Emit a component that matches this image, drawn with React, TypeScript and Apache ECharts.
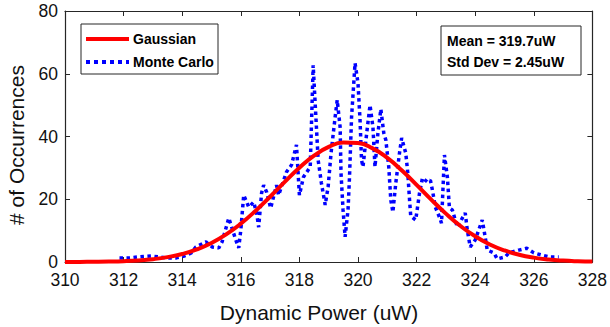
import React, { useEffect, useRef } from "react";
import * as echarts from "echarts";

// Monte Carlo histogram trace (x in uW, y = # of occurrences)
const mcX = [
  311.86, 312.2, 312.47, 312.95, 313.46, 313.8, 314.07, 314.31, 314.47, 314.81,
  315.02, 315.25, 315.36, 315.59, 315.83, 315.93, 316.0, 316.1, 316.27, 316.44,
  316.54, 316.61, 316.71, 316.78, 316.88, 317.02, 317.22, 317.29, 317.56, 317.73,
  317.9, 318.0, 318.14, 318.37, 318.47, 318.64, 318.75, 318.88, 318.98, 319.08,
  319.22, 319.29, 319.39, 319.42, 319.49, 319.56, 319.66, 319.71, 319.78, 319.9,
  320.0, 320.07, 320.12, 320.17, 320.27, 320.41, 320.51, 320.58, 320.68, 320.78,
  320.88, 320.95, 321.05, 321.12, 321.19, 321.29, 321.42, 321.49, 321.63, 321.7,
  321.76, 321.8, 321.97, 322.1, 322.2, 322.37, 322.47, 322.54, 322.64, 322.78,
  322.85, 322.95, 323.05, 323.12, 323.22, 323.39, 323.56, 323.66, 323.73, 323.83,
  324.0, 324.24, 324.34, 324.41, 324.64, 324.75, 325.02, 325.15, 325.49, 325.76,
  326.0, 326.27, 326.54, 326.85,
];
const mcY = [
  1.3, 1.3, 1.6, 1.9, 1.3, 1.3, 1.9, 2.9, 4.8, 6.4,
  4.8, 4.5, 6.4, 14.0, 7.0, 4.5, 10.2, 21.3, 17.5, 19.1,
  15.6, 11.1, 22.0, 24.5, 22.3, 17.2, 24.5, 21.3, 28.7, 30.9,
  37.3, 21.3, 27.1, 30.3, 62.7, 32.5, 25.2, 18.2, 23.9, 34.7,
  46.2, 51.6, 43.0, 28.3, 16.6, 8.0, 16.6, 27.1, 46.2, 63.4,
  57.0, 45.2, 32.5, 30.3, 38.9, 50.0, 43.0, 30.3, 41.1, 48.7,
  41.1, 38.9, 30.3, 19.7, 15.9, 25.2, 35.0, 39.5, 34.7, 28.3,
  19.7, 14.6, 13.4, 22.0, 26.8, 25.5, 26.1, 22.9, 17.5, 14.3,
  12.4, 34.1, 27.1, 17.2, 16.6, 11.1, 14.0, 15.6, 10.2, 4.8,
  7.0, 13.4, 8.0, 3.8, 2.9, 1.0, 1.6, 2.9, 3.8, 4.4,
  2.9, 2.2, 1.6, 1.6,
];

// Gaussian fit values
const gaussX = [
  310, 310.5, 311, 311.5, 312, 312.5, 313, 313.5, 314, 314.5, 315, 315.5, 316,
  316.5, 317, 317.5, 318, 318.5, 319, 319.5, 320, 320.5, 321, 321.5, 322, 322.5,
  323, 323.5, 324, 324.5, 325, 325.5, 326, 326.5, 327, 327.5, 328,
];
const gaussY = [
  0.02, 0.03, 0.07, 0.14, 0.27, 0.51, 0.91, 1.56, 2.55, 4.02, 6.07, 8.79, 12.22,
  16.28, 20.81, 25.52, 30.03, 33.88, 36.67, 38.07, 37.91, 36.22, 33.18, 29.16,
  24.59, 19.88, 15.42, 11.47, 8.19, 5.6, 3.68, 2.32, 1.4, 0.81, 0.45, 0.24, 0.12,
];

const legendLabels = ["Gaussian", "Monte Carlo"];
const statsLines = ["Mean = 319.7uW", "Std Dev = 2.45uW"];
const xTitle = "Dynamic Power (uW)";
const yTitle = "# of Occurrences";

const FONT = "'Liberation Sans', Arial, Helvetica, sans-serif";
const AX = "#262626";

export default function App() {
  const ref = useRef<HTMLDivElement>(null);
  useEffect(() => {
    if (!ref.current) return;
    const chart = echarts.init(ref.current, undefined, { renderer: "svg" });
    const axisCommon = {
      type: "value" as const,
      axisLine: { show: true, onZero: false, lineStyle: { color: AX, width: 1.2 } },
      axisTick: { show: true, inside: true, length: 5, lineStyle: { color: AX, width: 1 } },
      splitLine: { show: false },
    };
    chart.setOption({
      animation: false,
      backgroundColor: "#ffffff",
      textStyle: { fontFamily: FONT },
      grid: { left: 65, right: 14, top: 11, bottom: 65, containLabel: false },
      xAxis: [
        {
          ...axisCommon,
          position: "bottom",
          min: 310,
          max: 328,
          interval: 2,
          axisLabel: { color: "#111", fontSize: 17.5, fontFamily: FONT, margin: 9 },
        },
        {
          ...axisCommon,
          position: "top",
          min: 310,
          max: 328,
          interval: 2,
          axisLabel: { show: false },
        },
      ],
      yAxis: [
        {
          ...axisCommon,
          position: "left",
          min: 0,
          max: 80,
          interval: 20,
          axisLabel: { color: "#111", fontSize: 17.5, fontFamily: FONT, margin: 7 },
        },
        {
          ...axisCommon,
          position: "right",
          min: 0,
          max: 80,
          interval: 20,
          axisLabel: { show: false },
        },
      ],
      series: [
        {
          name: legendLabels[1],
          type: "line",
          data: mcX.map((x, i) => [x, mcY[i]]),
          showSymbol: false,
          symbol: "none",
          lineStyle: { color: "#0000ff", width: 3.5, type: "dotted", cap: "butt" },
          z: 2,
        },
        {
          name: legendLabels[0],
          type: "line",
          data: gaussX.map((x, i) => [x, gaussY[i]]),
          showSymbol: false,
          symbol: "none",
          smooth: true,
          lineStyle: { color: "#ff0000", width: 4 },
          z: 3,
        },
      ],
      graphic: [
        {
          type: "text",
          x: 319,
          y: 312,
          style: {
            text: xTitle,
            font: `21px ${FONT}`,
            fill: "#111",
            align: "center",
            verticalAlign: "middle",
          },
        },
        {
          type: "text",
          x: 16,
          y: 145,
          rotation: Math.PI / 2,
          style: {
            text: yTitle,
            font: `21px ${FONT}`,
            fill: "#111",
            align: "center",
            verticalAlign: "middle",
          },
        },
        {
          type: "group",
          z: 100,
          children: [
            {
              type: "rect",
              shape: { x: 81, y: 24, width: 137, height: 50 },
              style: { fill: "#fff", stroke: AX, lineWidth: 1 },
            },
            {
              type: "line",
              shape: { x1: 86, y1: 39, x2: 129, y2: 39 },
              style: { stroke: "#ff0000", lineWidth: 4 },
            },
            {
              type: "line",
              shape: { x1: 86, y1: 62, x2: 129, y2: 62 },
              style: { stroke: "#0000ff", lineWidth: 4, lineDash: [4, 4] },
            },
            {
              type: "text",
              x: 133,
              y: 39,
              style: {
                text: legendLabels[0],
                font: `bold 14px ${FONT}`,
                fill: "#000",
                verticalAlign: "middle",
              },
            },
            {
              type: "text",
              x: 133,
              y: 62,
              style: {
                text: legendLabels[1],
                font: `bold 14px ${FONT}`,
                fill: "#000",
                verticalAlign: "middle",
              },
            },
            {
              type: "rect",
              shape: { x: 441, y: 26, width: 140, height: 49 },
              style: { fill: "#fff", stroke: AX, lineWidth: 1 },
            },
            {
              type: "text",
              x: 447,
              y: 41,
              style: {
                text: statsLines[0],
                font: `bold 14px ${FONT}`,
                fill: "#000",
                verticalAlign: "middle",
              },
            },
            {
              type: "text",
              x: 447,
              y: 62,
              style: {
                text: statsLines[1],
                font: `bold 14px ${FONT}`,
                fill: "#000",
                verticalAlign: "middle",
              },
            },
          ],
        },
      ],
    });
    return () => chart.dispose();
  }, []);
  return <div ref={ref} style={{ width: 610, height: 327, position: "absolute", left: 0, top: 0 }} />;
}
